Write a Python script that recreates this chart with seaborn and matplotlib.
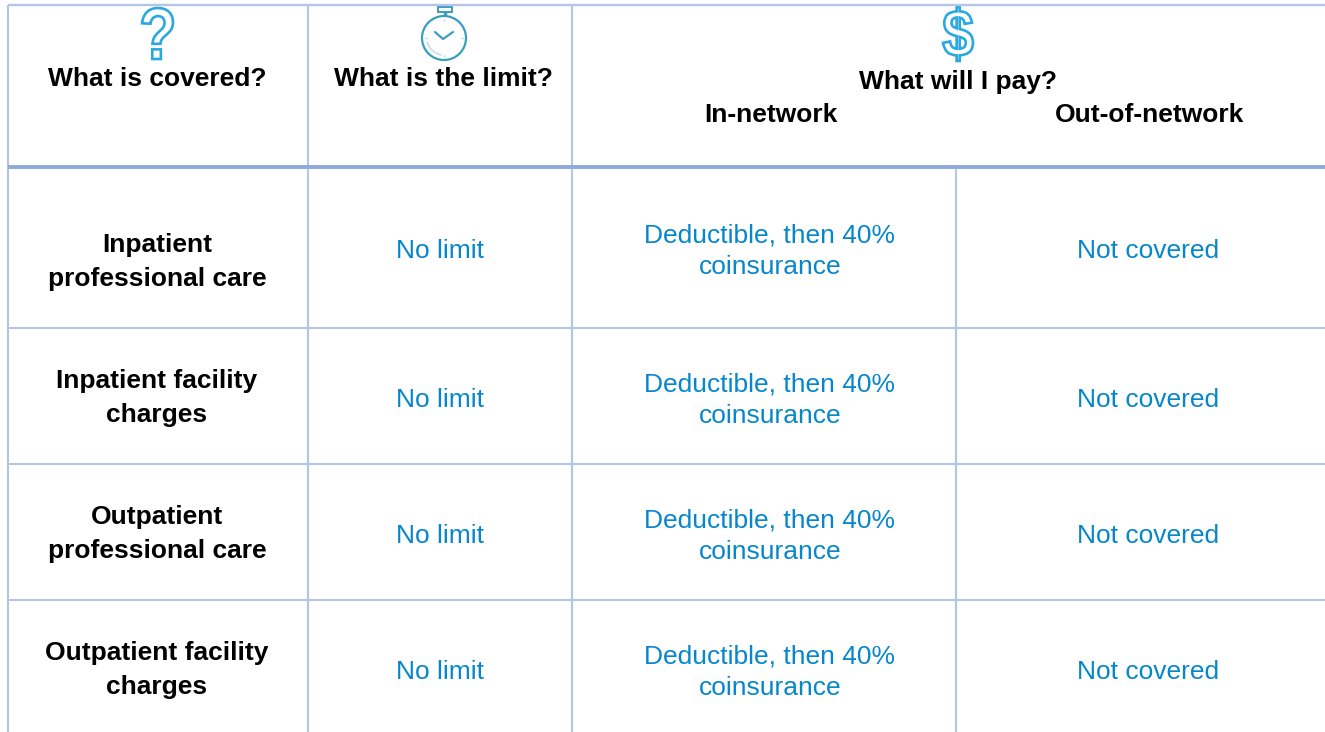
# coding: utf-8
import numpy as np
import seaborn as sns
import matplotlib
matplotlib.use('Agg')
import matplotlib.pyplot as plt
import matplotlib.patches as mpatches
from matplotlib.font_manager import FontProperties
from matplotlib.textpath import TextPath
from matplotlib.transforms import Affine2D

covered = ['Inpatient\nprofessional care', 'Inpatient facility\ncharges', 'Outpatient\nprofessional care', 'Outpatient facility\ncharges']
limits = ['No limit', 'No limit', 'No limit', 'No limit']
in_network = ['Deductible, then 40%\ncoinsurance'] * 4
out_network = ['Not covered'] * 4

LIGHT = '#B4C6E7'
MID = '#8EAADB'
BLUE = '#0787CB'
ICON = '#2AA9E0'
TEAL = '#3A9FBF'

sns.set_theme(style='white')
plt.rcParams['font.family'] = ['Liberation Sans', 'DejaVu Sans']

fig = plt.figure(figsize=(13.25, 7.32), dpi=100)
ax = fig.add_axes([0, 0, 1, 1])
ax.set_xlim(0, 1325)
ax.set_ylim(732, 0)
ax.axis('off')


def rule(x0, x1, y0, y1, color=LIGHT, lw=1.5):
	sns.lineplot(x=[x0, x1], y=[y0, y1], color=color, lw=lw, sort=False, estimator=None, ax=ax, solid_capstyle='butt')


def glyph_icon(s, x0, x1, y0, y1):
	# the icons are pictures in the original, so outline them as shapes
	tp = TextPath((0, 0), s, size=10, prop=FontProperties(family='Liberation Sans', weight='bold'))
	bb = tp.get_extents()
	t = Affine2D().translate(-bb.x0, -bb.y0).scale((x1 - x0) / bb.width, -(y1 - y0) / bb.height).translate(x0, y1)
	ax.add_patch(mpatches.PathPatch(t.transform_path(tp), fc='white', ec=ICON, lw=1.9))


# outer + column rules
for x in [8, 308, 572]:
	rule(x, x, 5, 732)
rule(956, 956, 167, 732)
rule(8, 1325, 5, 5, lw=1.7)
for y in [328, 464, 600]:
	rule(8, 1325, y, y)
rule(8, 1325, 167, 167, color=MID, lw=2.8)

# icons
glyph_icon('?', 142, 173, 8, 59)
glyph_icon('$', 943, 973, 7, 61)

ax.add_patch(mpatches.Circle((444, 38), 22, fill=False, ec=TEAL, lw=1.6))
ax.add_patch(mpatches.Rectangle((438, 7), 14, 5, fc='white', ec=TEAL, lw=1.4))
ax.plot([445, 445], [12, 16], color=TEAL, lw=2.5, solid_capstyle='butt')
ax.plot([435, 443, 453], [32, 39, 32], color=TEAL, lw=1.6)
for a in np.deg2rad([0, 90, 180, 270]):
	ax.plot([444 + 17 * np.cos(a), 444 + 19 * np.cos(a)], [38 + 17 * np.sin(a), 38 + 19 * np.sin(a)], color='#C9DDE6', lw=1)
ang = np.deg2rad(np.arange(100, 170, 5))
ax.plot(444 + 17 * np.cos(ang), 38 + 17 * np.sin(ang), color='#C9DDE6', lw=1.2)

# header
head = dict(fontsize=19, fontweight='bold', color='black', ha='center', va='center')
ax.text(157, 79, 'What is covered?', **head)
ax.text(443, 79, 'What is the limit?', **head)
ax.text(958, 82, 'What will I pay?', **head)
ax.text(771, 115, 'In-network', **head)
ax.text(1150, 115, 'Out-of-network', **head)

# body
label_y = [262, 398, 534, 670]
value_y = [251, 400, 536, 672]
for i in range(len(covered)):
	ax.text(157, label_y[i], covered[i], fontsize=19, fontweight='bold', color='black', ha='center', va='center', linespacing=1.55)
	ax.text(440, value_y[i], limits[i], fontsize=19, color=BLUE, ha='center', va='center')
	ax.text(770, value_y[i], in_network[i], fontsize=19, color=BLUE, ha='center', va='center', linespacing=1.42)
	ax.text(1148, value_y[i], out_network[i], fontsize=19, color=BLUE, ha='center', va='center')

fig.savefig('out.png', dpi=100)
